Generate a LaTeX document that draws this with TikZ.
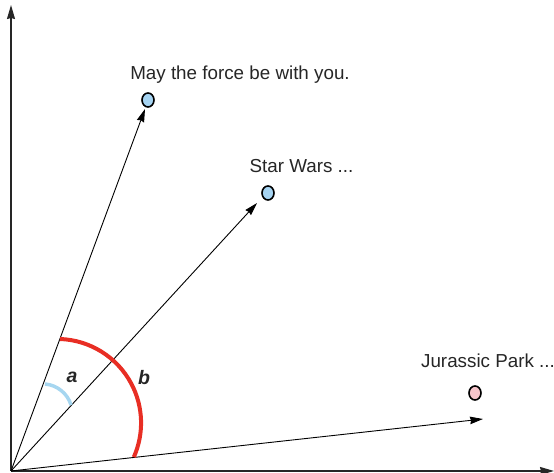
\documentclass[tikz,border=0pt]{standalone}
\usepackage{fontspec}
\setmainfont{Liberation Sans}
\usetikzlibrary{arrows.meta,shapes.geometric}
\definecolor{dotblue}{RGB}{166,212,242}
\definecolor{dotpink}{RGB}{246,196,202}
\definecolor{arcred}{RGB}{232,46,36}
\definecolor{arcblue}{RGB}{166,214,240}

\begin{document}
\begin{tikzpicture}[x=1pt, y=1pt,
  axis/.style={line width=1.3pt, draw=black!85, -{Stealth[length=14pt,width=8pt,inset=1pt]}},
  vec/.style={line width=0.9pt, -{Stealth[length=13pt,width=7.5pt,inset=1pt]}},
  doc/.style={draw, line width=1.6pt, ellipse, minimum width=12pt, minimum height=14pt, inner sep=0pt},
  lbl/.style={font=\fontsize{18.8}{22}\selectfont, anchor=base, text=black!85},
  ang/.style={font=\fontsize{19.5}{22}\selectfont\bfseries\itshape, anchor=base, text=black!85}
]
  \useasboundingbox (0,0) rectangle (554,473);

  % axes
  \coordinate (O) at (11,2);
  \coordinate (ytop) at (11,468);
  \coordinate (xend) at (554,2);
  \draw[axis] (O) -- (ytop);
  \draw[axis] (O) -- (xend);

  % documents
  \node[doc, fill=dotblue] (force) at (148,373) {};
  \node[doc, fill=dotblue] (star) at (268,280) {};
  \node[doc, fill=dotpink] (jurassic) at (475,80) {};
  \node[lbl] (forcetxt) at (240,393) {May the force be with you.};
  \node[lbl] (startxt) at (301.5,300) {Star Wars ...};
  \node[lbl] (jurassictxt) at (488,105) {Jurassic Park ...};

  % vectors
  \coordinate (tipF) at (145,364);
  \coordinate (tipS) at (257,270);
  \coordinate (tipJ) at (483,54);
  \draw[vec] (O) -- (tipF);
  \draw[vec] (O) -- (tipS);
  \draw[vec] (O) -- (tipJ);

  % angles
  \draw[arcblue, line width=3.5pt] (45,89) arc[start angle=85, end angle=17, radius=30];
  \draw[arcred, line width=4pt] (60,134) arc[start angle=88, end angle=-24, radius=84];
  \node[ang] (a) at (72,90) {a};
  \node[ang] (b) at (144,88) {b};
\end{tikzpicture}
\end{document}
